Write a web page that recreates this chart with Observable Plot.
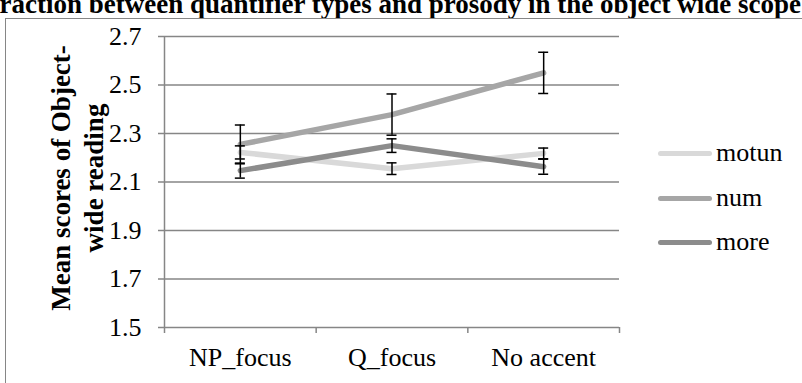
<!DOCTYPE html>
<html>
<head>
<meta charset="utf-8">
<script src="https://cdn.jsdelivr.net/npm/d3@7"></script>
<script src="https://cdn.jsdelivr.net/npm/@observablehq/plot@0.6"></script>
<style>
  html, body { margin: 0; padding: 0; background: #fff; }
  #wrap { position: relative; width: 802px; height: 383px; overflow: hidden; font-family: "Liberation Serif", "Times New Roman", serif; color: #000; }
  #title { position: absolute; left: -47px; top: -9px; white-space: nowrap; font-weight: bold; font-size: 27px; line-height: 26px; }
  #frame { position: absolute; left: 5px; top: 18px; width: 900px; height: 500px; border-left: 1.5px solid #868686; border-top: 1.5px solid #868686; }
  #plot { position: absolute; left: 0; top: 0; }
  #ylabel { position: absolute; left: 78px; top: 178px; transform: translate(-50%, -50%) rotate(-90deg); font-weight: bold; font-size: 27px; line-height: 33px; text-align: center; white-space: nowrap; }
  .leg { position: absolute; left: 658px; font-size: 26px; display: flex; align-items: center; height: 30px; }
  .leg span.sw { display: inline-block; width: 54px; height: 5px; border-radius: 3px; margin-right: 4px; }
</style>
</head>
<body>
<div id="wrap">
  <div id="title"></div>
  <div id="frame"></div>
  <div id="plot"></div>
  <div id="ylabel"></div>
  <div id="legend"></div>
</div>
<script>
const titleText = "Interaction between quantifier types and prosody in the object wide scope";
const yLabelLines = ["Mean scores of Object-", "wide reading"];
const categories = ["NP_focus", "Q_focus", "No accent"];
const seriesNames = ["motun", "num", "more"];
const seriesColors = ["#d9d9d9", "#a6a6a6", "#8c8c8c"];
const motun = [2.222, 2.155, 2.218];
const num = [2.255, 2.378, 2.55];
const more = [2.147, 2.25, 2.163];
const motunErr = [0.027, 0.024, 0.022];
const numErr = [0.08, 0.085, 0.085];
const moreErr = [0.031, 0.028, 0.031];
const yTicks = [1.5, 1.7, 1.9, 2.1, 2.3, 2.5, 2.7];

const values = {motun, num, more};
const errs = {motun: motunErr, num: numErr, more: moreErr};
const data = [];
for (const s of seriesNames) {
  categories.forEach((c, i) => {
    data.push({series: s, i, cat: c, v: values[s][i], e: errs[s][i]});
  });
}
const bounds = d3.range(categories.length + 1).map(k => k - 0.5);
const grid = "#868686";

document.getElementById("title").textContent = titleText;
document.getElementById("ylabel").innerHTML = yLabelLines.join("<br>");

const chart = Plot.plot({
  width: 802,
  height: 383,
  marginLeft: 164,
  marginRight: 183,
  marginTop: 36,
  marginBottom: 56,
  style: {background: "transparent", fontFamily: "'Liberation Serif', 'Times New Roman', serif", fontSize: "26px", color: "#000"},
  x: {domain: [-0.5, categories.length - 0.5], axis: null},
  y: {domain: [1.5, 2.7], axis: null},
  color: {domain: seriesNames, range: seriesColors},
  marks: [
    Plot.gridY(yTicks, {stroke: grid, strokeOpacity: 1, strokeWidth: 1.5}),
    Plot.ruleX([bounds[0]], {stroke: grid, strokeWidth: 1.5}),
    Plot.axisY(yTicks, {tickSize: 6, tickPadding: 17, stroke: grid, strokeWidth: 1.5, tickFormat: d3.format(".1f"), fill: "#000", fontSize: 26, label: null}),
    Plot.axisX(bounds, {tickSize: 6, stroke: grid, strokeWidth: 1.5, tickFormat: () => "", label: null}),
    Plot.axisX(d3.range(categories.length), {tickSize: 0, tickPadding: 20, tickFormat: i => categories[i], fill: "#000", fontSize: 26, label: null}),
    Plot.line(data, {x: "i", y: "v", z: "series", stroke: "series", strokeWidth: 5.5, strokeLinecap: "round", strokeLinejoin: "round"}),
    Plot.ruleX(data, {x: "i", y1: d => d.v - d.e, y2: d => d.v + d.e, stroke: "#000", strokeWidth: 1.5}),
    Plot.ruleY(data, {x1: "i", x2: "i", y: d => d.v + d.e, insetLeft: -5, insetRight: -5, stroke: "#000", strokeWidth: 1.5}),
    Plot.ruleY(data, {x1: "i", x2: "i", y: d => d.v - d.e, insetLeft: -5, insetRight: -5, stroke: "#000", strokeWidth: 1.5})
  ]
});
document.getElementById("plot").appendChild(chart);

const legendCenters = [153, 198, 242];
const legend = document.getElementById("legend");
seriesNames.forEach((s, k) => {
  const div = document.createElement("div");
  div.className = "leg";
  div.style.top = (legendCenters[k] - 15) + "px";
  div.innerHTML = `<span class="sw" style="background:${seriesColors[k]}"></span><span>${s}</span>`;
  legend.appendChild(div);
});
</script>
</body>
</html>
